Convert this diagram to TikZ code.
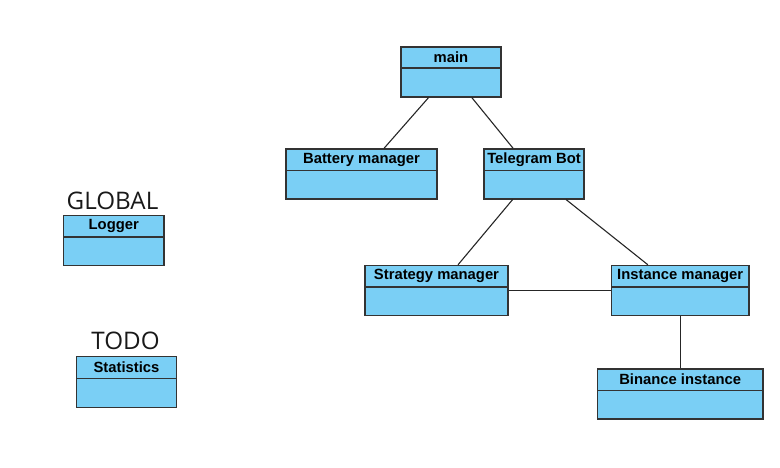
\documentclass[tikz,border=0pt]{standalone}
\usepackage{fontspec}
\setmainfont{Liberation Sans}
\newfontfamily\labelfont{Open Sans}
\tikzset{
  clsbox/.style={draw=black!80, line width=1.1pt, fill=clsfill, inner sep=0pt},
  clsdiv/.style={draw=black!80, line width=1.1pt},
  clstitle/.style={font=\fontsize{14.8}{16}\selectfont\bfseries, text=black, inner sep=0pt},
  conn/.style={draw=black!85, line width=1.1pt},
  biglabel/.style={font=\labelfont\fontsize{24.2}{27}\selectfont, text=black!90, inner sep=0pt}
}
\definecolor{clsfill}{HTML}{7ACFF5}
% name, left, top, right, divider, bottom, title
\newcommand\umlbox[7]{%
  \node[clsbox, minimum width={(#4-#2)*1pt}, minimum height={(#6-#3)*1pt}]
    (#1) at ({(#2+#4)/2},{(#3+#6)/2}) {};
  \draw[clsdiv] (#2,#5) -- (#4,#5);
  \node[clstitle] (#1-title) at ({(#2+#4)/2},{(#3+#5)/2}) {#7};
}
\begin{document}
\begin{tikzpicture}[x=1pt,y=-1pt]
\useasboundingbox (0,0) rectangle (780,467);
\umlbox{main}{401}{47}{501}{68}{97}{main}
\umlbox{batt}{286}{149}{437}{170.5}{199}{Battery manager}
\umlbox{tele}{484}{149}{584}{170.5}{199}{Telegram Bot}
\umlbox{strat}{365}{265.3}{508}{287}{315.7}{Strategy manager}
\umlbox{inst}{611.3}{265.3}{749}{287}{315.7}{Instance manager}
\umlbox{bin}{597.3}{369}{763}{390.3}{419}{Binance instance}
\umlbox{logger}{63.5}{215.7}{164}{237}{265.7}{Logger}
\umlbox{stats}{76.3}{356.7}{176.7}{378.7}{407.3}{Statistics}
\node[biglabel] (global) at (112.5,200.5) {GLOBAL};
\node[biglabel] (todo) at (125.5,341) {TODO};
\draw[conn] (main) -- (batt);
\draw[conn] (main) -- (tele);
\draw[conn] (tele) -- (strat);
\draw[conn] (tele) -- (inst);
\draw[conn] (strat) -- (inst);
\draw[conn] (inst) -- (bin);
\end{tikzpicture}
\end{document}
